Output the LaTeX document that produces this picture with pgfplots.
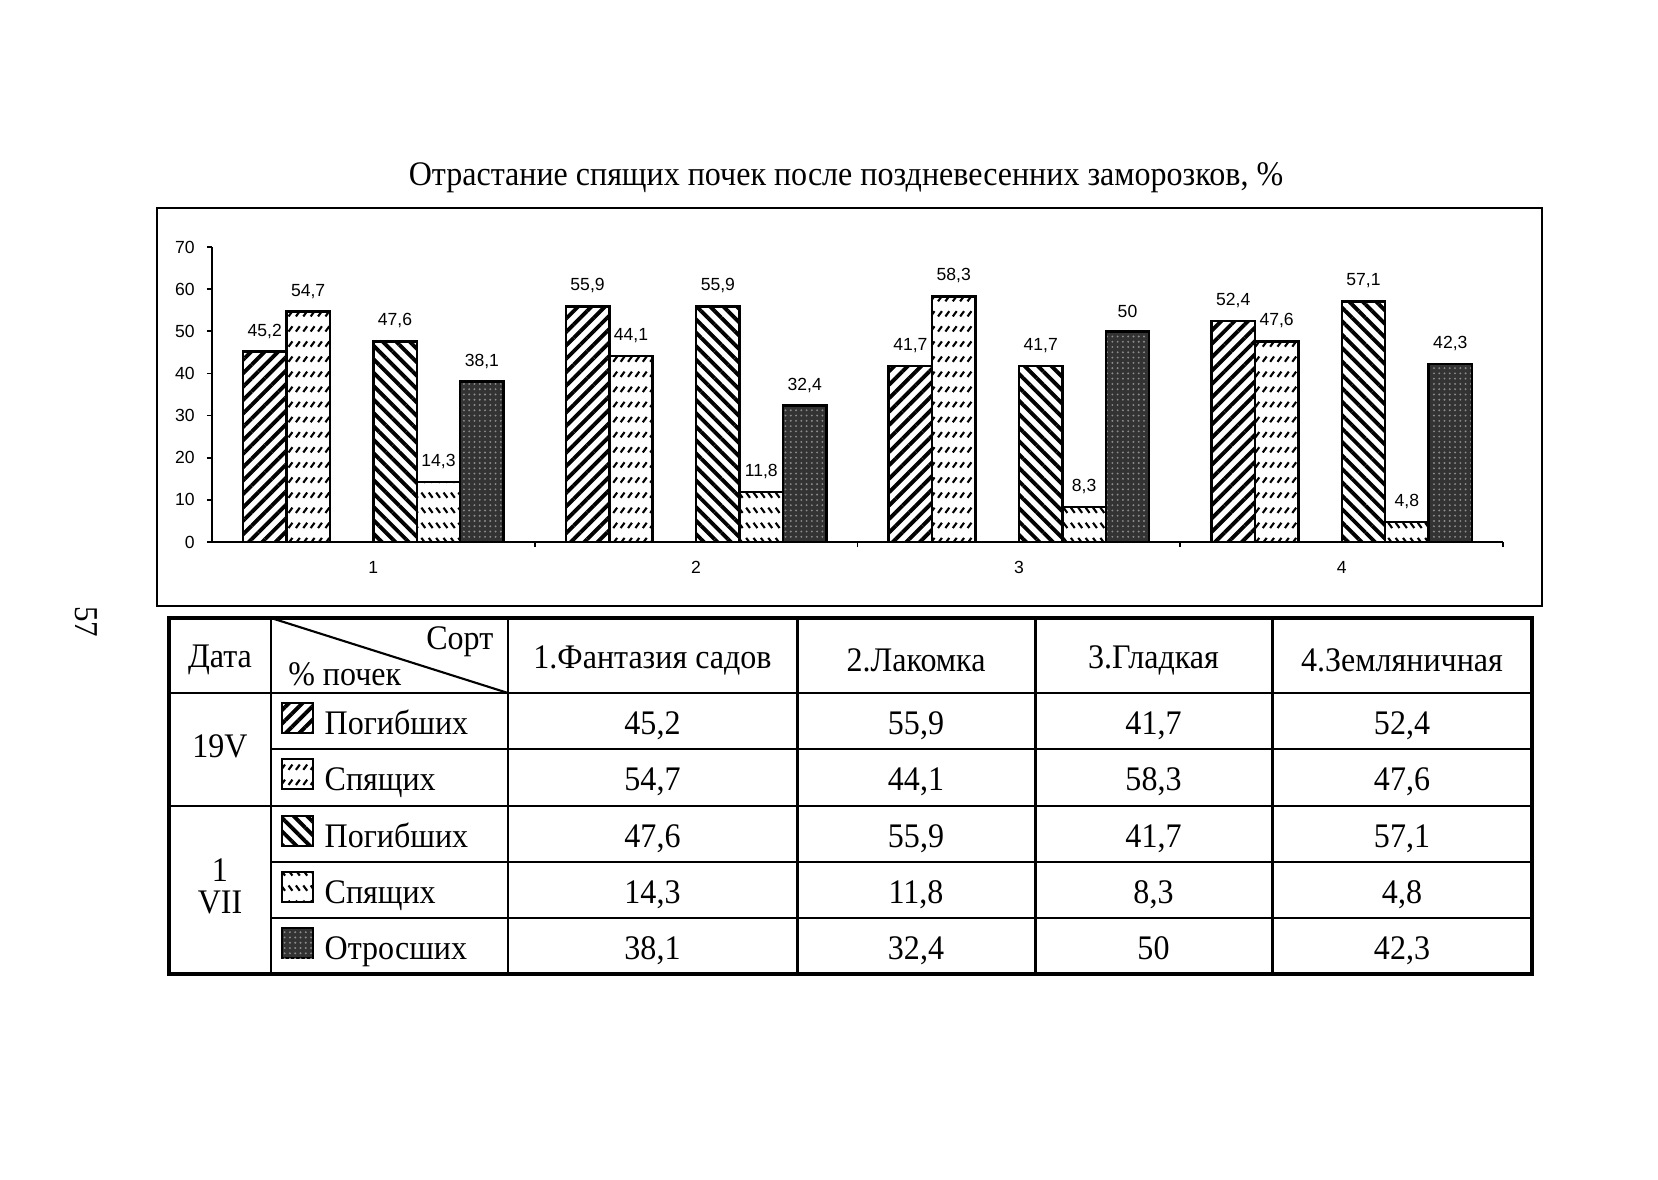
\documentclass[border=0pt]{standalone}
\usepackage{fontspec}
\setmainfont{Liberation Serif}[FakeStretch=0.93]
\newfontfamily\arial{Liberation Sans}
\usepackage{pgfplots}
\pgfplotsset{compat=1.18}
\usepackage{pgfplotstable}
\usetikzlibrary{patterns,patterns.meta}

\tikzdeclarepattern{
  name=dashR,
  type=uncolored,
  bottom left={(-0.5pt,-0.5pt)},
  top right={(2.6pt,4.8pt)},
  tile size={(2.1pt,4.3pt)},
  code={\draw[line width=0.6pt] (0.2pt,0.6pt) -- (1.3pt,2.1pt);}
}
\tikzdeclarepattern{
  name=dashL,
  type=uncolored,
  bottom left={(-0.5pt,-0.5pt)},
  top right={(2.6pt,4.8pt)},
  tile size={(2.1pt,4.3pt)},
  code={\draw[line width=0.6pt] (1.3pt,0.6pt) -- (0.2pt,2.1pt);}
}

\tikzset{
  patA/.style={pattern={Lines[angle=45,distance=2.7pt,line width=1.1pt]}},
  patB/.style={pattern=dashR},
  patC/.style={pattern={Lines[angle=-45,distance=2.7pt,line width=1.1pt]}},
  patD/.style={pattern=dashL},
  patE/.style={fill=black!80, postaction={pattern={Dots[distance=1.5pt,radius=0.3pt]}, pattern color=black!45}},
}

\pgfplotstableread{
g A B C D E
1 45.2 54.7 47.6 14.3 38.1
2 55.9 44.1 55.9 11.8 32.4
3 41.7 58.3 41.7 8.3 50
4 52.4 47.6 57.1 4.8 42.3
}\datatable

\begin{document}
\begin{tikzpicture}[x=0.1mm,y=-0.1mm]
\fill[white] (0,0) rectangle (1658,1180);

% page number
\node[rotate=-90, font=\fontsize{9.5}{11}\selectfont] at (86.7,621.7) {57};

% title
\node[font=\fontsize{9.8}{11}\selectfont] at (846,178) {Отрастание спящих почек после поздневесенних заморозков, \%};

% chart frame
\draw[line width=0.6pt] (156.7,208.3) rectangle (1541.7,605.7);

\begin{axis}[
  at={(21.19mm,-54.2mm)}, anchor=south west, scale only axis,
  width=129.13mm, height=29.5mm,
  xmin=0.5, xmax=4.5, ymin=0, ymax=70,
  ybar,
  axis x line*=bottom, axis y line*=left,
  axis line style={-, line width=0.6pt},
  ytick={0,10,...,70},
  xtick={1.5,2.5,3.5,4.5}, xticklabels={,,,},
  extra x ticks={1,2,3,4}, extra x tick labels={1,2,3,4},
  extra x tick style={major tick length=0pt},
  tick align=outside, major tick length=1.4pt,
  tick style={black, line width=0.5pt},
  /pgf/number format/assume math mode=true,
  /pgf/number format/use comma,
  /pgf/number format/fixed,
  /pgf/number format/precision=1,
  ticklabel style={font=\arial\fontsize{5}{6}\selectfont},
  xticklabel style={yshift=-2pt},
  nodes near coords,
  every node near coord/.append style={font=\arial\fontsize{5}{6}\selectfont, inner sep=0pt, yshift=3.4pt, anchor=south, fill=none, draw=none},
  bar width=0.1345,
]
\addplot[draw=black, line width=0.7pt, patA, bar shift=-0.3363] table[x=g,y=A]{\datatable};
\addplot[draw=black, line width=0.7pt, patB, bar shift=-0.2018] table[x=g,y=B]{\datatable};
\addplot[draw=black, line width=0.7pt, patC, bar shift=0.0673] table[x=g,y=C]{\datatable};
\addplot[draw=black, line width=0.7pt, patD, bar shift=0.2018] table[x=g,y=D]{\datatable};
\addplot[draw=black, line width=0.7pt, patE, bar shift=0.3363] table[x=g,y=E]{\datatable};
\end{axis}

% table
\begin{scope}[line width=0.85pt]
\draw[line width=1pt] (169,618) rectangle (1532,974);
\draw (169,693) -- (1532,693);
\draw (169,806) -- (1532,806);
\foreach \yy in {749,862,918} \draw (271,\yy) -- (1532,\yy);
\foreach \xx in {271,508,797,1035,1272} \draw (\xx,618) -- (\xx,974);
\draw[line width=0.6pt] (271,618) -- (508,693);
\end{scope}

\begin{scope}[font=\fontsize{9.8}{11}\selectfont]
\node at (220,660) {Дата};
\node[anchor=east, inner sep=0] at (494,641.5) {Сорт};
\node[anchor=west, inner sep=0] at (287.6,674) {\% почек};
\node at (652.5,660) {1.Фантазия садов};
\node at (916,660) {2.Лакомка};
\node at (1153.5,660) {3.Гладкая};
\node at (1402,660) {4.Земляничная};
\node at (220,746) {19V};
\node at (220,870) {1};
\node at (220,902) {VII};

% row labels with swatches
\foreach \top/\pat/\lab in {693/patA/Погибших, 749/patB/Спящих, 806/patC/Погибших, 862/patD/Спящих, 918/patE/Отросших}{
  \draw[line width=0.7pt, \pat] (282,\top+10) rectangle (313,\top+40);
  \node[anchor=base west, inner sep=0] at (324,\top+41) {\lab};
}
\end{scope}

\begin{scope}[font=\fontsize{9.8}{11}\selectfont, every node/.style={anchor=base, inner sep=0}]
\node at (652.5,734) {45,2}; \node at (916,734) {55,9}; \node at (1153.5,734) {41,7}; \node at (1402,734) {52,4};
\node at (652.5,790) {54,7}; \node at (916,790) {44,1}; \node at (1153.5,790) {58,3}; \node at (1402,790) {47,6};
\node at (652.5,847) {47,6}; \node at (916,847) {55,9}; \node at (1153.5,847) {41,7}; \node at (1402,847) {57,1};
\node at (652.5,903) {14,3}; \node at (916,903) {11,8}; \node at (1153.5,903) {8,3}; \node at (1402,903) {4,8};
\node at (652.5,959) {38,1}; \node at (916,959) {32,4}; \node at (1153.5,959) {50}; \node at (1402,959) {42,3};
\end{scope}
\end{tikzpicture}
\end{document}
